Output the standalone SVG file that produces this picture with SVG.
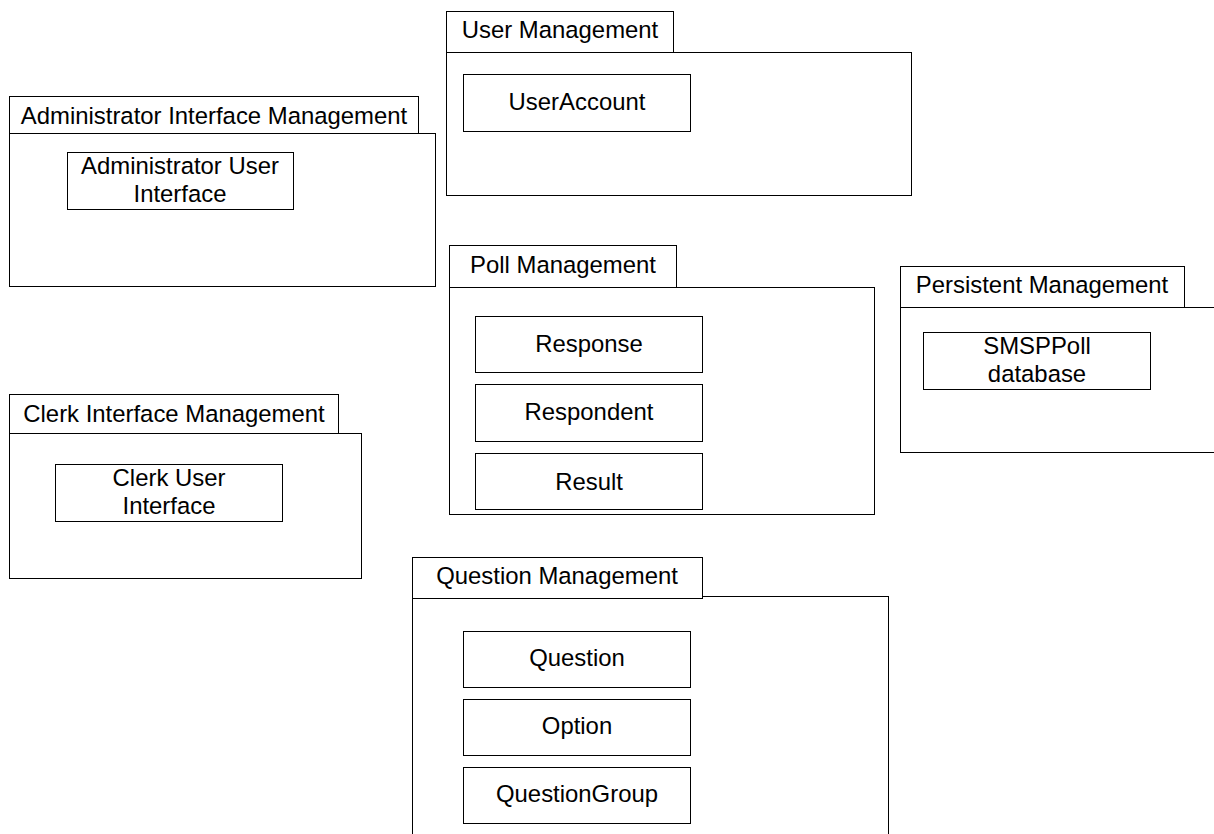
<svg xmlns="http://www.w3.org/2000/svg" width="1214" height="834" viewBox="0 0 1214 834">
<style>
rect{fill:#fff;stroke:#000;stroke-width:1}
text{font-family:"Liberation Sans",Arial,sans-serif;font-size:23.9px;fill:#000;text-anchor:middle}
</style>
<rect x="0" y="0" width="1214" height="834" style="stroke:none"/>
<g id="connectors"/>
<g id="user-management">
<rect x="446.5" y="52.5" width="465" height="143"/>
<rect x="446.5" y="11.5" width="227" height="41"/>
<text x="560" y="38">User Management</text>
<rect x="463.5" y="74.5" width="227" height="57"/>
<text x="577" y="110">UserAccount</text>
</g>
<g id="admin-interface-management">
<rect x="9.5" y="133.5" width="426" height="153"/>
<rect x="9.5" y="96.5" width="409" height="37"/>
<text x="214" y="124">Administrator Interface Management</text>
<rect x="67.5" y="152.5" width="226" height="57"/>
<text x="180" y="174">Administrator User</text>
<text x="180" y="202">Interface</text>
</g>
<g id="poll-management">
<rect x="449.5" y="287.5" width="425" height="227"/>
<rect x="449.5" y="245.5" width="227" height="42"/>
<text x="563" y="273">Poll Management</text>
<rect x="475.5" y="316.5" width="227" height="56"/>
<text x="589" y="352">Response</text>
<rect x="475.5" y="384.5" width="227" height="57"/>
<text x="589" y="420">Respondent</text>
<rect x="475.5" y="453.5" width="227" height="56"/>
<text x="589" y="490">Result</text>
</g>
<g id="persistent-management">
<rect x="900.5" y="307.5" width="330" height="145"/>
<rect x="900.5" y="266.5" width="284" height="41"/>
<text x="1042" y="293">Persistent Management</text>
<rect x="923.5" y="332.5" width="227" height="57"/>
<text x="1037" y="354">SMSPPoll</text>
<text x="1037" y="382">database</text>
</g>
<g id="clerk-interface-management">
<rect x="9.5" y="433.5" width="352" height="145"/>
<rect x="9.5" y="394.5" width="329" height="39"/>
<text x="174" y="422">Clerk Interface Management</text>
<rect x="55.5" y="464.5" width="227" height="57"/>
<text x="169" y="486">Clerk User</text>
<text x="169" y="514">Interface</text>
</g>
<g id="question-management">
<rect x="412.5" y="596.5" width="476" height="260"/>
<rect x="412.5" y="557.5" width="290" height="41"/>
<text x="557" y="584">Question Management</text>
<rect x="463.5" y="631.5" width="227" height="56"/>
<text x="577" y="666">Question</text>
<rect x="463.5" y="699.5" width="227" height="56"/>
<text x="577" y="734">Option</text>
<rect x="463.5" y="767.5" width="227" height="56"/>
<text x="577" y="802">QuestionGroup</text>
</g>
</svg>
